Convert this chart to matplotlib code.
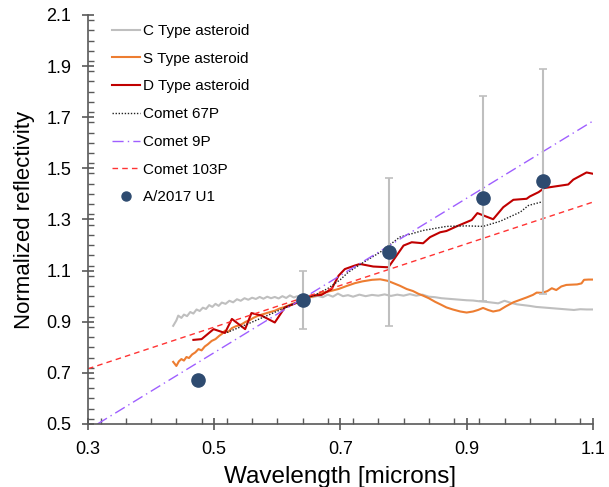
import matplotlib
matplotlib.use("Agg")
import matplotlib.pyplot as plt
from matplotlib.ticker import MultipleLocator

plt.rcParams['font.family'] = ['Liberation Sans', 'DejaVu Sans']

# C type asteroid (grey, noisy flat)
c_x = [0.435, 0.440, 0.443, 0.448, 0.452, 0.457, 0.462, 0.467, 0.472, 0.477, 0.482, 0.487,
       0.492, 0.497, 0.502, 0.507, 0.512, 0.518, 0.524, 0.530, 0.536, 0.542, 0.548, 0.554,
       0.560, 0.566, 0.572, 0.578, 0.584, 0.590, 0.596, 0.602, 0.608, 0.614, 0.620, 0.626,
       0.632, 0.640, 0.648, 0.656, 0.664, 0.672, 0.680, 0.688, 0.696, 0.704, 0.712, 0.720,
       0.730, 0.740, 0.750, 0.760, 0.770, 0.780, 0.790, 0.800, 0.810, 0.820, 0.830, 0.840,
       0.850, 0.860, 0.870, 0.880, 0.890, 0.900, 0.910, 0.920, 0.930, 0.940, 0.950, 0.960,
       0.970, 0.980, 0.990, 1.000, 1.010, 1.020, 1.030, 1.040, 1.050, 1.060, 1.070, 1.080,
       1.090, 1.100]
c_y = [0.884, 0.905, 0.924, 0.915, 0.928, 0.922, 0.938, 0.932, 0.948, 0.942, 0.955, 0.950,
       0.965, 0.958, 0.970, 0.962, 0.975, 0.970, 0.982, 0.976, 0.988, 0.982, 0.992, 0.986,
       0.994, 0.989, 0.997, 0.990, 0.998, 0.992, 0.997, 0.991, 1.000, 0.993, 1.003, 0.995,
       1.000, 0.995, 1.002, 0.996, 1.001, 0.996, 1.006, 0.998, 1.010, 1.000, 1.004, 0.998,
       1.006, 1.000, 1.005, 1.002, 1.007, 1.001, 1.006, 1.002, 1.008, 1.002, 1.006, 0.998,
       0.996, 0.992, 0.990, 0.988, 0.986, 0.984, 0.983, 0.980, 0.978, 0.975, 0.972, 0.982,
       0.974, 0.968, 0.965, 0.962, 0.958, 0.956, 0.954, 0.952, 0.950, 0.948, 0.946, 0.949,
       0.948, 0.948]

# S type asteroid (orange)
s_x = [0.435, 0.440, 0.444, 0.448, 0.452, 0.456, 0.460, 0.465, 0.470, 0.475, 0.480, 0.485,
       0.490, 0.496, 0.502, 0.508, 0.512, 0.517, 0.522, 0.528, 0.534, 0.540, 0.544, 0.550,
       0.556, 0.562, 0.570, 0.578, 0.586, 0.596, 0.604, 0.612, 0.623, 0.633, 0.644, 0.655,
       0.670, 0.684, 0.697, 0.710, 0.723, 0.735, 0.750, 0.763, 0.775, 0.785, 0.794, 0.805,
       0.815, 0.823, 0.831, 0.840, 0.850, 0.860, 0.868, 0.878, 0.890, 0.900, 0.910, 0.918,
       0.926, 0.934, 0.942, 0.952, 0.962, 0.974, 0.985, 0.995, 1.005, 1.011, 1.020, 1.028,
       1.035, 1.042, 1.050, 1.058, 1.066, 1.075, 1.082, 1.086, 1.093, 1.100]
s_y = [0.743, 0.727, 0.745, 0.754, 0.748, 0.762, 0.758, 0.772, 0.780, 0.793, 0.788, 0.803,
       0.812, 0.825, 0.832, 0.845, 0.852, 0.865, 0.860, 0.875, 0.882, 0.886, 0.891, 0.900,
       0.906, 0.915, 0.924, 0.930, 0.936, 0.943, 0.952, 0.958, 0.969, 0.978, 0.989, 0.998,
       1.012, 1.020, 1.028, 1.040, 1.051, 1.058, 1.064, 1.066, 1.060, 1.050, 1.041, 1.028,
       1.020, 1.010, 1.002, 0.992, 0.978, 0.966, 0.956, 0.948, 0.940, 0.936, 0.940, 0.946,
       0.954, 0.946, 0.940, 0.945, 0.960, 0.976, 0.986, 0.995, 1.005, 1.014, 1.013, 1.020,
       1.031, 1.024, 1.038, 1.044, 1.045, 1.046, 1.050, 1.064, 1.065, 1.065]

# D type asteroid (dark red)
d_x = [0.467, 0.480, 0.499, 0.517, 0.528, 0.549, 0.559, 0.575, 0.596, 0.612, 0.633, 0.654,
       0.670, 0.686, 0.697, 0.707, 0.723, 0.731, 0.752, 0.776, 0.800, 0.813, 0.831, 0.842,
       0.858, 0.868, 0.884, 0.908, 0.917, 0.942, 0.958, 0.974, 0.995, 1.000, 1.014, 1.023,
       1.061, 1.069, 1.090, 1.100]
d_y = [0.829, 0.832, 0.871, 0.856, 0.911, 0.871, 0.934, 0.924, 0.897, 0.956, 0.976, 1.002,
       1.005, 1.028, 1.080, 1.106, 1.120, 1.126, 1.116, 1.113, 1.198, 1.211, 1.207, 1.231,
       1.250, 1.255, 1.273, 1.298, 1.325, 1.301, 1.348, 1.377, 1.381, 1.390, 1.407, 1.423,
       1.437, 1.456, 1.484, 1.479]

# Comet 67P (dotted)
p67_x = [0.52, 0.55, 0.58, 0.61, 0.64, 0.66, 0.68, 0.70, 0.712, 0.735, 0.763, 0.794,
         0.831, 0.868, 0.90, 0.926, 0.953, 0.985, 0.998, 1.024]
p67_y = [0.858, 0.888, 0.92, 0.952, 0.985, 1.005, 1.03, 1.065, 1.093, 1.13, 1.172, 1.231,
         1.257, 1.273, 1.275, 1.273, 1.293, 1.329, 1.355, 1.372]

# Comet 9P and 103P (straight slopes)
p9_x = [0.315, 1.1]
p9_y = [0.5, 1.685]
p103_x = [0.3, 1.1]
p103_y = [0.716, 1.368]

# A/2017 U1 photometry
u1_x = [0.475, 0.640, 0.7765, 0.926, 1.021]
u1_y = [0.672, 0.984, 1.173, 1.383, 1.450]
u1_err = [0.0, 0.114, 0.29, 0.40, 0.44]

fig = plt.figure(figsize=(6.09, 4.87), dpi=100)
ax = fig.add_axes([0.1445, 0.1294, 0.829, 0.8398])

ax.plot(c_x, c_y, color='#BFBFBF', lw=1.5, label='C Type asteroid')
ax.plot(s_x, s_y, color='#ED7D31', lw=1.5, label='S Type asteroid')
ax.plot(d_x, d_y, color='#C00000', lw=1.5, label='D Type asteroid')
ax.plot(p67_x, p67_y, color='#222222', lw=1.0, ls=(0, (1, 1.2)), label='Comet 67P')
ax.plot(p9_x, p9_y, color='#9F5FFF', lw=1.0, ls=(0, (8, 3, 1, 3)), label='Comet 9P')
ax.plot(p103_x, p103_y, color='#FF3333', lw=1.0, ls=(0, (4, 3)), label='Comet 103P')
# error bars in grey, then the points on top
ax.errorbar(u1_x, u1_y, yerr=u1_err, fmt='none', ecolor='#BFBFBF', elinewidth=1.5,
            capsize=3, capthick=1.2, zorder=4)
ax.plot(u1_x, u1_y, 'o', color='#2E4B70', ms=9.5, label='A/2017 U1', zorder=5)

ax.set_xlim(0.3, 1.1)
ax.set_ylim(0.5, 2.1)
ax.xaxis.set_minor_locator(MultipleLocator(0.04))
ax.yaxis.set_minor_locator(MultipleLocator(0.04))
ax.set_xticks([0.3, 0.5, 0.7, 0.9, 1.1])
ax.set_yticks([0.5, 0.7, 0.9, 1.1, 1.3, 1.5, 1.7, 1.9, 2.1])
ax.set_xticklabels(['0.3', '0.5', '0.7', '0.9', '1.1'])
ax.set_yticklabels(['0.5', '0.7', '0.9', '1.1', '1.3', '1.5', '1.7', '1.9', '2.1'])

for side in ['top', 'right']:
    ax.spines[side].set_visible(False)
for side in ['left', 'bottom']:
    ax.spines[side].set_color('#595959')
    ax.spines[side].set_linewidth(1.2)
ax.tick_params(which='major', direction='inout', length=8, width=1.2, color='#595959',
               labelsize=13, pad=8)
ax.tick_params(which='minor', direction='in', length=4, width=1.0, color='#595959')

ax.set_xlabel('Wavelength [microns]', fontsize=17.5, labelpad=6)
ax.set_ylabel('Normalized reflectivity', fontsize=16, labelpad=8)

leg = ax.legend(loc='upper left', bbox_to_anchor=(0.0475, 0.978), frameon=False, fontsize=11,
                handlelength=1.85, handletextpad=0.2, labelspacing=0.9, borderaxespad=0,
                borderpad=0)
leg.legend_handles[-1].set_markersize(6.5)

fig.savefig('out.png', dpi=100)
